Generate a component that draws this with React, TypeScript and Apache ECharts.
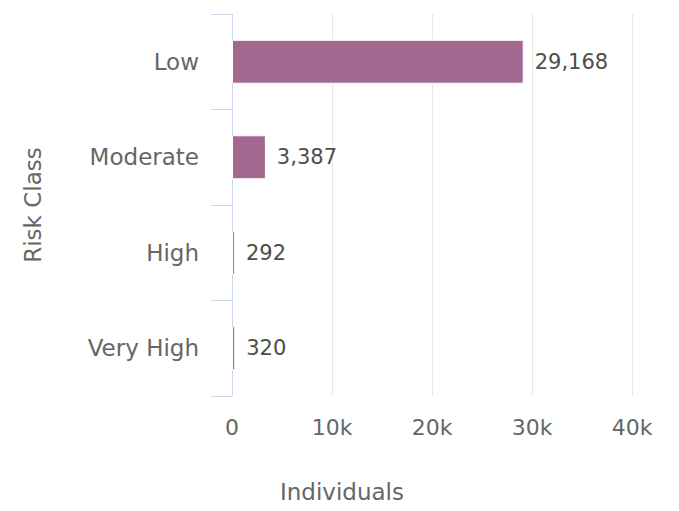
import React, { useEffect, useRef } from "react";
import * as echarts from "echarts";

const categories = ["Low", "Moderate", "High", "Very High"];
const individuals = [29168, 3387, 292, 320];
const xTickValues = [0, 10000, 20000, 30000, 40000];
const xTickLabels = ["0", "10k", "20k", "30k", "40k"];

const FONT = "DejaVu Sans";

export default function App() {
  const ref = useRef<HTMLDivElement>(null);
  useEffect(() => {
    document.body.style.margin = "0";
    const chart = echarts.init(ref.current!, null, { renderer: "svg" });
    chart.setOption({
      animation: false,
      backgroundColor: "#ffffff",
      textStyle: { fontFamily: FONT },
      grid: { left: 232, top: 14, width: 400, height: 382, containLabel: false },
      xAxis: {
        type: "value",
        min: 0,
        max: 40000,
        interval: 10000,
        axisLine: { show: false },
        axisTick: { show: false },
        splitLine: { show: true, lineStyle: { color: "#e6e6e6", width: 1 } },
        axisLabel: {
          margin: 20,
          fontSize: 22,
          color: "#666666",
          fontFamily: FONT,
          formatter: (v: number) => {
            const i = xTickValues.indexOf(v);
            return i >= 0 ? xTickLabels[i] : "";
          },
        },
      },
      yAxis: {
        type: "category",
        data: categories,
        inverse: true,
        name: "Risk Class",
        nameLocation: "middle",
        nameGap: 188,
        nameTextStyle: { fontSize: 23, color: "#666666", fontFamily: FONT },
        axisLine: { show: true, lineStyle: { color: "#ccd6eb", width: 1 } },
        axisTick: { show: true, length: 21, lineStyle: { color: "#ccd6eb", width: 1 } },
        splitLine: { show: false },
        axisLabel: { margin: 33, fontSize: 23, color: "#666666", fontFamily: FONT },
      },
      graphic: [
        {
          type: "text",
          x: 342,
          y: 492,
          style: {
            text: "Individuals",
            fontSize: 23,
            fontFamily: FONT,
            fill: "#666666",
            align: "center",
            verticalAlign: "middle",
          },
        },
      ],
      series: [
        {
          type: "bar",
          data: individuals,
          barWidth: "46%",
          itemStyle: { color: "#a2688f", borderColor: "#ffffff", borderWidth: 1 },
          label: {
            show: true,
            position: "right",
            distance: 11,
            fontSize: 21,
            color: "#4d4d4d",
            fontFamily: FONT,
            formatter: (p: any) => Number(p.value).toLocaleString("en-US"),
          },
        },
      ],
    });
    return () => chart.dispose();
  }, []);
  return <div ref={ref} style={{ width: 679, height: 511 }} />;
}
